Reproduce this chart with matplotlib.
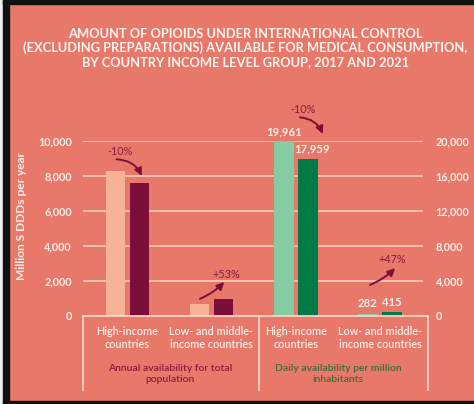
import matplotlib
matplotlib.use("Agg")
import matplotlib.pyplot as plt
from matplotlib.patches import Rectangle
from matplotlib.lines import Line2D

# ---- data ----
categories = ["High-income\ncountries", "Low- and middle-\nincome countries",
              "High-income\ncountries", "Low- and middle-\nincome countries"]
groups = ["Annual availability for total\npopulation",
          "Daily availability per million\ninhabitants"]
annual_2017 = [8300, 660]      # million S-DDDs per year
annual_2021 = [7600, 1000]
daily_2017 = [19961, 282]      # S-DDDs per million inhabitants per day
daily_2021 = [17959, 415]
annual_change = ["-10%", "+53%"]
daily_change = ["-10%", "+47%"]
left_ticks = [0, 2000, 4000, 6000, 8000, 10000]
right_ticks = [0, 4000, 8000, 12000, 16000, 20000]

BG = "#E8796A"
LIGHT_PEACH = "#F8B396"
MAROON = "#7C0F3A"
LIGHT_GREEN = "#86CCA3"
DARK_GREEN = "#007A47"
GRID = "#F6C9B8"
TXT = "#FCEDE6"
ANN = "#8A1A40"
GREEN_TXT = "#3E6B38"
FONT = "Lato"

W, H = 474, 404
fig = plt.figure(figsize=(W / 100, H / 100), dpi=100, facecolor=BG)

def fx(px):
    return px / W

def fy(py):
    return 1 - py / H

ax_l, ax_r, ax_t, ax_b = 83, 423, 141, 316
ax = fig.add_axes([fx(ax_l), fy(ax_b), fx(ax_r) - fx(ax_l), fy(ax_t) - fy(ax_b)])
ax.set_facecolor("none")
ax2 = ax.twinx()
ax2.set_facecolor("none")

bw = 0.232
off = 0.1426
xs_left = [0, 1]
xs_right = [2, 3]

ax.bar([x - off for x in xs_left], annual_2017, width=bw, color=LIGHT_PEACH, zorder=3)
ax.bar([x + off for x in xs_left], annual_2021, width=bw, color=MAROON, zorder=3)
ax2.bar([x - off for x in xs_right], daily_2017, width=bw, color=LIGHT_GREEN, zorder=3)
ax2.bar([x + off for x in xs_right], daily_2021, width=bw, color=DARK_GREEN, zorder=3)

ax.set_xlim(-0.529, 3.511)
ax.set_ylim(0, 10000)
ax2.set_ylim(0, 20000)
ax.set_yticks(left_ticks)
ax2.set_yticks(right_ticks)
ax.set_yticklabels([f"{v:,}" for v in left_ticks])
ax2.set_yticklabels([f"{v:,}" for v in right_ticks])
for a in (ax, ax2):
    for s in a.spines.values():
        s.set_visible(False)
    a.tick_params(length=0, labelsize=7.8, labelcolor=TXT)
    for lab in a.get_yticklabels():
        lab.set_fontfamily(FONT)
        lab.set_fontweight("bold")
ax.tick_params(axis="y", pad=8)
ax2.tick_params(axis="y", pad=9)
ax.set_xticks([])
for v in left_ticks[1:]:
    ax.axhline(v, color=GRID, lw=1.3, zorder=1)

ax.set_ylabel("Million S DDDs per year", fontsize=8.6, fontfamily=FONT,
              fontweight="bold", color=TXT)
ax.yaxis.set_label_coords(-0.165, 0.571)

# value labels on daily bars
for x, v in zip(xs_right, daily_2017):
    ax2.annotate(f"{v:,}", (x - off, v), xytext=(0, 3), textcoords="offset points",
                 ha="center", va="bottom", fontsize=8.2, fontfamily=FONT,
                 fontweight="bold", color=TXT, annotation_clip=False)
for x, v in zip(xs_right, daily_2021):
    ax2.annotate(f"{v:,}", (x + off, v), xytext=(3 if v > 1000 else 0, 3),
                 textcoords="offset points", ha="center", va="bottom", fontsize=8.2,
                 fontfamily=FONT, fontweight="bold", color=TXT, annotation_clip=False)

# change annotations
def change(axis, label, text_xy, start, end, rad):
    axis.annotate("", xy=end, xytext=start,
                  arrowprops=dict(arrowstyle="-|>,head_length=0.45,head_width=0.22",
                                  color=MAROON, lw=1.4,
                                  connectionstyle=f"arc3,rad={rad}",
                                  shrinkA=0, shrinkB=0),
                  annotation_clip=False)
    axis.text(text_xy[0], text_xy[1], label, ha="center", va="center", fontsize=7.8,
              fontfamily=FONT, color=ANN, clip_on=False)

change(ax, annual_change[0], (-0.09, 9400), (-0.13, 8950), (0.17, 8000), -0.3)
change(ax, annual_change[1], (1.17, 2400), (0.86, 980), (1.15, 1950), 0.1)
change(ax2, daily_change[0], (2.085, 23650), (2.05, 22700), (2.32, 20800), -0.3)
change(ax2, daily_change[1], (3.15, 6500), (2.88, 3550), (3.18, 5480), 0.1)

# category labels
cat_px = [127, 211, 296, 380]
for px, lab in zip(cat_px, categories):
    fig.text(fx(px), fy(338), lab, ha="center", va="center", fontsize=7.8,
             fontfamily=FONT, fontweight="semibold", color=TXT, linespacing=1.2)
fig.text(fx(170), fy(374), groups[0], ha="center", va="center", fontsize=7.5,
         fontfamily=FONT, fontweight="semibold", color=ANN, linespacing=1.3)
fig.text(fx(338), fy(374), groups[1], ha="center", va="center", fontsize=7.5,
         fontfamily=FONT, fontweight="semibold", color=GREEN_TXT, linespacing=1.3)

# bracket lines
lc = "#F8DCD0"
fig.add_artist(Line2D([fx(83), fx(428)], [fy(316), fy(316)], color=lc, lw=1.2))
for px in (83, 259, 428):
    fig.add_artist(Line2D([fx(px), fx(px)], [fy(316), fy(390)], color=lc, lw=1.2))

# title
fig.text(fx(245), fy(48),
         "AMOUNT OF OPIOIDS UNDER INTERNATIONAL CONTROL\n"
         "(EXCLUDING PREPARATIONS) AVAILABLE FOR MEDICAL CONSUMPTION,\n"
         "BY COUNTRY INCOME LEVEL GROUP, 2017 AND 2021",
         ha="center", va="center", fontsize=9.3, fontfamily=FONT, fontweight="bold",
         color="#FFF4EE", linespacing=1.2)

# frame
fig.add_artist(Rectangle((0, 0), fx(3), 1, transform=fig.transFigure,
                         color="#EEEEEE", zorder=10))
fig.add_artist(Rectangle((fx(3), 0), fx(6), 1, transform=fig.transFigure,
                         color="#111111", zorder=10))
fig.add_artist(Rectangle((fx(3), fy(4)), 1, 4 / H, transform=fig.transFigure,
                         color="#111111", zorder=10))
fig.add_artist(Rectangle((fx(3), 0), 1, 3 / H, transform=fig.transFigure,
                         color="#111111", zorder=10))

fig.savefig("out.png", dpi=100, facecolor=BG)
